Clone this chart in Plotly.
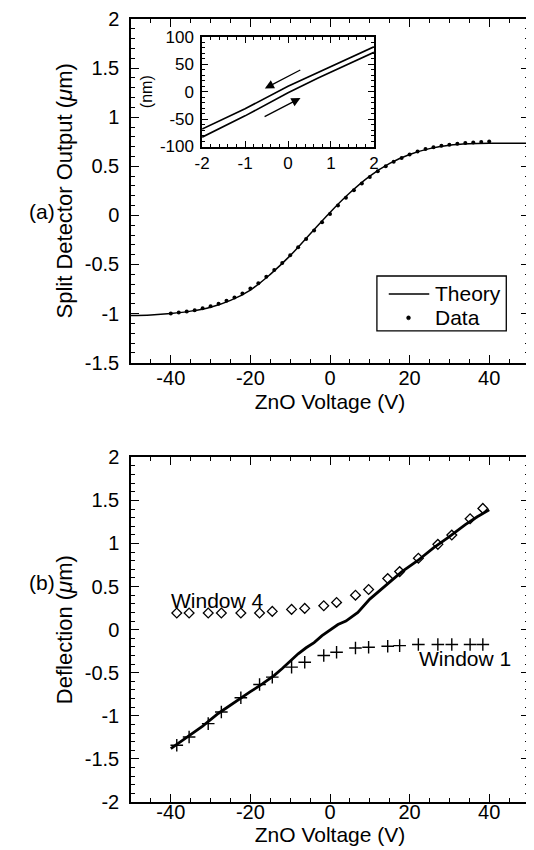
import plotly.graph_objects as go

# ---------------- Panel (a) ----------------
theory_a_x = [-50, -45, -40, -35, -30, -25, -20, -15, -10, -5, 0, 5, 10, 15, 20, 25, 30, 35, 40, 45, 50]
theory_a_y = [-1.02, -1.015, -1.0, -0.975, -0.935, -0.865, -0.76, -0.60, -0.41, -0.19, 0.03, 0.23,
              0.40, 0.53, 0.62, 0.68, 0.715, 0.73, 0.735, 0.735, 0.735]

data_a_x = [-40, -38, -36, -34, -32, -30, -28, -26, -24, -22, -20, -18, -16, -14, -12, -10, -8, -6, -4, -2,
            0, 2, 4, 6, 8, 10, 12, 14, 16, 18, 20, 22, 24, 26, 28, 30, 32, 34, 36, 38, 40]
data_a_y = [-1.00, -0.99, -0.98, -0.965, -0.945, -0.925, -0.90, -0.87, -0.835, -0.795, -0.745, -0.69,
            -0.625, -0.555, -0.485, -0.405, -0.325, -0.24, -0.155, -0.07, 0.015, 0.10, 0.18, 0.255,
            0.325, 0.39, 0.45, 0.50, 0.545, 0.585, 0.62, 0.65, 0.675, 0.695, 0.71, 0.72, 0.73, 0.738,
            0.743, 0.748, 0.752]

# inset (hysteresis, nm)
inset_up_x = [-2, -1, 0, 0.7, 2]
inset_up_y = [-68, -31, 10, 35, 82]
inset_lo_x = [-2, -1, 0, 0.7, 2]
inset_lo_y = [-83, -44, -2, 25, 72]

# ---------------- Panel (b) ----------------
theory_b_x = [-40, -36, -32, -28, -24, -20, -17, -14, -12, -10, -8, -6, -4, -2, 0, 2, 4, 7, 10, 14,
              18, 22, 26, 30, 34, 37, 40]
theory_b_y = [-1.38, -1.25, -1.12, -0.97, -0.84, -0.72, -0.63, -0.53, -0.45, -0.36, -0.28, -0.21,
              -0.15, -0.07, 0.0, 0.06, 0.10, 0.20, 0.355, 0.51, 0.67, 0.80, 0.95, 1.08, 1.22, 1.31, 1.39]

win4_x = [-38.5, -35.4, -30.6, -27.3, -22.4, -17.7, -14.5, -9.65, -6.35, -1.57, 1.65, 6.4, 9.7, 14.5,
          17.5, 22.2, 27.1, 30.6, 35.2, 38.4]
win4_y = [0.193, 0.193, 0.193, 0.193, 0.193, 0.193, 0.212, 0.235, 0.247, 0.277, 0.316, 0.40, 0.466,
          0.593, 0.674, 0.829, 0.99, 1.098, 1.287, 1.407]

win1_x = [-38.5, -35.4, -30.6, -27.3, -22.4, -17.7, -14.5, -9.65, -6.35, -1.57, 1.65, 6.4, 9.7, 14.5,
          17.5, 22.2, 27.1, 30.6, 35.2, 38.4]
win1_y = [-1.341, -1.245, -1.09, -0.956, -0.79, -0.636, -0.551, -0.435, -0.378, -0.30, -0.262, -0.212,
          -0.204, -0.193, -0.185, -0.173, -0.173, -0.173, -0.173, -0.173]

# ticks
x_ticks = [-40, -20, 0, 20, 40]
x_ticktext = ["-40", "-20", "0", "20", "40"]
ya_ticks = [-1.5, -1, -0.5, 0, 0.5, 1, 1.5, 2]
ya_ticktext = ["-1.5", "-1", "-0.5", "0", "0.5", "1", "1.5", "2"]
yb_ticks = [-2, -1.5, -1, -0.5, 0, 0.5, 1, 1.5, 2]
yb_ticktext = ["-2", "-1.5", "-1", "-0.5", "0", "0.5", "1", "1.5", "2"]
xi_ticks = [-2, -1, 0, 1, 2]
xi_ticktext = ["-2", "-1", "0", "1", "2"]
yi_ticks = [-100, -50, 0, 50, 100]
yi_ticktext = ["-100", "-50", "0", "50", "100"]
legend_labels = ["Theory", "Data"]

FONT = "Liberation Sans, Arial, Helvetica, sans-serif"
OFF = 8  # default page body margin
W, H = 534 - OFF, 850 - OFF
ML, MR, MT = 131 - OFF, 0, 16 - OFF
MB = H - (802 - OFF)
PW = W - ML - MR
PH = H - MT - MB


def px_x(p):  # page pixel -> paper fraction
    return (p - OFF - ML) / PW


def px_y(p):
    return (H - MB - (p - OFF)) / PH


fig = go.Figure()

fig.add_trace(go.Scatter(x=theory_a_x, y=theory_a_y, mode="lines", name="Theory",
                         line=dict(color="black", width=1.5, shape="spline"),
                         xaxis="x", yaxis="y", showlegend=False))
fig.add_trace(go.Scatter(x=data_a_x, y=data_a_y, mode="markers", name="Data",
                         marker=dict(color="black", size=4),
                         xaxis="x", yaxis="y", showlegend=False))

fig.add_trace(go.Scatter(x=inset_up_x, y=inset_up_y, mode="lines", showlegend=False,
                         line=dict(color="black", width=1.6), xaxis="x3", yaxis="y3"))
fig.add_trace(go.Scatter(x=inset_lo_x, y=inset_lo_y, mode="lines", showlegend=False,
                         line=dict(color="black", width=1.6), xaxis="x3", yaxis="y3"))

fig.add_trace(go.Scatter(x=theory_b_x, y=theory_b_y, mode="lines", showlegend=False,
                         line=dict(color="black", width=2.8), xaxis="x2", yaxis="y2"))
fig.add_trace(go.Scatter(x=win4_x, y=win4_y, mode="markers", showlegend=False,
                         marker=dict(symbol="diamond-open", size=7.5, color="black",
                                     line=dict(width=1.3, color="black")),
                         xaxis="x2", yaxis="y2"))
fig.add_trace(go.Scatter(x=win1_x, y=win1_y, mode="markers", showlegend=False,
                         marker=dict(symbol="cross-thin-open", size=9, color="black",
                                     line=dict(width=1.4, color="black")),
                         xaxis="x2", yaxis="y2"))

TICKF = dict(family=FONT, size=20, color="black")
common_axis = dict(showgrid=False, zeroline=False, showline=True, linecolor="black", linewidth=1.5,
                   mirror="ticks", ticks="inside", tickcolor="black", tickwidth=1.2,
                   tickfont=TICKF)
minor_x = dict(dtick=5, ticklen=4, ticks="inside", tickcolor="black", tickwidth=1.2)
minor_y = dict(dtick=0.1, ticklen=4, ticks="inside", tickcolor="black", tickwidth=1.2)

fig.update_layout(
    width=W, height=H,
    margin=dict(l=ML, r=MR, t=MT, b=MB),
    paper_bgcolor="white", plot_bgcolor="white",
    font=dict(family=FONT, color="black"),
    showlegend=False,
    xaxis=dict(common_axis, domain=[0, 1], anchor="y", range=[-50, 50],
               tickvals=x_ticks, ticktext=x_ticktext, ticklen=8, minor=minor_x,
               ticklabelstandoff=-3,
               title=dict(text="ZnO Voltage (V)", font=dict(family=FONT, size=21), standoff=6)),
    yaxis=dict(common_axis, domain=[px_y(361), px_y(16)], anchor="x", range=[-1.5, 2],
               tickvals=ya_ticks, ticktext=ya_ticktext, ticklen=8, minor=minor_y,
               ticklabelstandoff=6,
               title=dict(text="Split Detector Output (<i>μ</i>m)", font=dict(family=FONT, size=22),
                          standoff=6)),
    xaxis2=dict(common_axis, domain=[0, 1], anchor="y2", range=[-50, 50],
                tickvals=x_ticks, ticktext=x_ticktext, ticklen=8, minor=minor_x,
                ticklabelstandoff=-9,
                title=dict(text="ZnO Voltage (V)", font=dict(family=FONT, size=21), standoff=0)),
    yaxis2=dict(common_axis, domain=[px_y(802), px_y(456)], anchor="x2", range=[-2, 2],
                tickvals=yb_ticks, ticktext=yb_ticktext, ticklen=8, minor=minor_y,
                ticklabelstandoff=6,
                title=dict(text="Deflection (<i>μ</i>m)", font=dict(family=FONT, size=22), standoff=6)),
    xaxis3=dict(common_axis, domain=[px_x(203), px_x(377)], anchor="y3", range=[-2, 2],
                tickvals=xi_ticks, ticktext=xi_ticktext, ticklen=6,
                tickfont=dict(family=FONT, size=17, color="black"),
                minor=dict(dtick=0.2, ticklen=3, ticks="inside", tickcolor="black", tickwidth=1),
                ticklabelstandoff=0),
    yaxis3=dict(common_axis, domain=[px_y(144), px_y(34)], anchor="x3", range=[-100, 100],
                tickvals=yi_ticks, ticktext=yi_ticktext, ticklen=6,
                tickfont=dict(family=FONT, size=17, color="black"),
                minor=dict(dtick=10, ticklen=3, ticks="inside", tickcolor="black", tickwidth=1),
                ticklabelstandoff=3,
                title=dict(text="(nm)", font=dict(family=FONT, size=16), standoff=3)),
)

# manual legend box (panel a)
shapes = [
    dict(type="rect", xref="paper", yref="paper", x0=px_x(380), x1=px_x(511), y0=px_y(329), y1=px_y(274),
         line=dict(color="black", width=1.3), fillcolor="white", layer="above"),
    dict(type="line", xref="paper", yref="paper", x0=px_x(392), x1=px_x(433), y0=px_y(292), y1=px_y(292),
         line=dict(color="black", width=1.5), layer="above"),
    dict(type="circle", xref="paper", yref="paper", x0=px_x(410), x1=px_x(414), y0=px_y(318), y1=px_y(314),
         line=dict(color="black", width=0.5), fillcolor="black", layer="above"),
]
fig.update_layout(shapes=shapes)

annotations = [
    dict(x=px_x(437), y=px_y(292), xref="paper", yref="paper", xanchor="left", text=legend_labels[0],
         showarrow=False, font=dict(family=FONT, size=21, color="black")),
    dict(x=px_x(437), y=px_y(316), xref="paper", yref="paper", xanchor="left", text=legend_labels[1],
         showarrow=False, font=dict(family=FONT, size=21, color="black")),
    dict(x=-0.54, y=6, ax=0.32, ay=41, xref="x3", yref="y3", axref="x3", ayref="y3",
         showarrow=True, arrowhead=2, arrowsize=1.4, arrowwidth=1.3, arrowcolor="black", text=""),
    dict(x=0.29, y=-11.5, ax=-0.58, ay=-47, xref="x3", yref="y3", axref="x3", ayref="y3",
         showarrow=True, arrowhead=2, arrowsize=1.4, arrowwidth=1.3, arrowcolor="black", text=""),
    dict(x=-28.2, y=0.335, xref="x2", yref="y2", text="Window 4", showarrow=False,
         font=dict(family=FONT, size=21, color="black")),
    dict(x=34.0, y=-0.34, xref="x2", yref="y2", text="Window 1", showarrow=False,
         font=dict(family=FONT, size=21, color="black")),
    dict(x=px_x(26), y=px_y(196), xref="paper", yref="paper", text="(a)", showarrow=False,
         font=dict(family=FONT, size=21, color="black")),
    dict(x=px_x(26), y=px_y(595), xref="paper", yref="paper", text="(b)", showarrow=False,
         font=dict(family=FONT, size=21, color="black")),
]
fig.update_layout(annotations=annotations)

fig.write_html("out.html")
